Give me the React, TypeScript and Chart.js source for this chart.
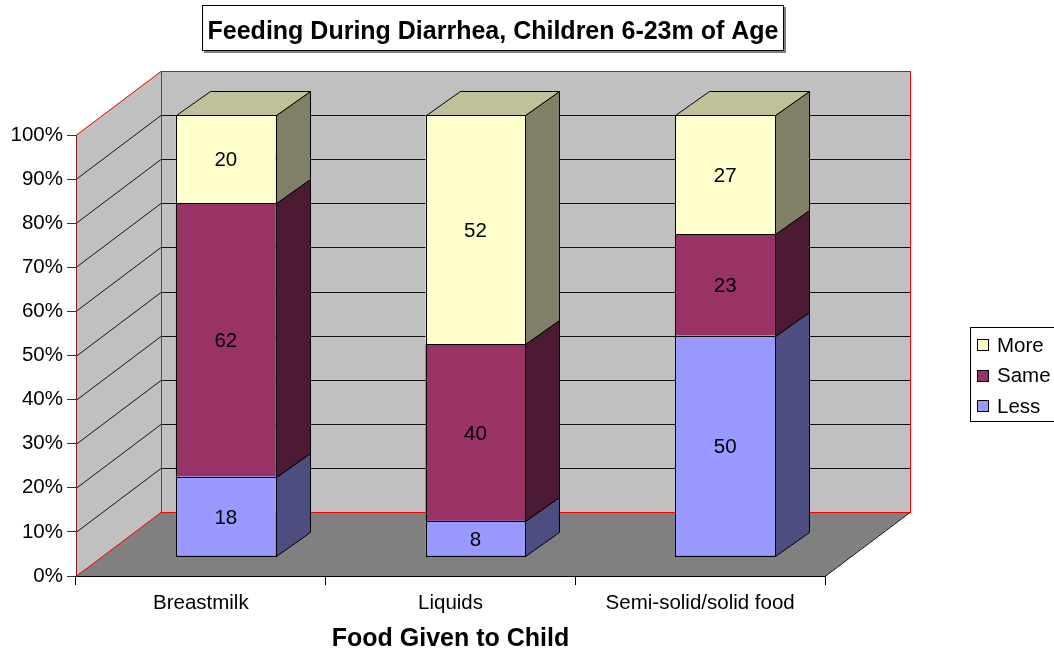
import React, { useEffect, useRef } from 'react';
import { Chart, registerables } from 'chart.js';

Chart.register(...registerables);

const TITLE = 'Feeding During Diarrhea, Children 6-23m of Age';
const X_TITLE = 'Food Given to Child';
const CATEGORIES = ['Breastmilk', 'Liquids', 'Semi-solid/solid food'];
const SERIES_NAMES = ['Less', 'Same', 'More'];
const LESS = [18, 8, 50];
const SAME = [62, 40, 23];
const MORE = [20, 52, 27];
const Y_MIN = 0;
const Y_MAX = 100;
const Y_STEP = 10;

const FONT = '"Liberation Sans", Arial, Helvetica, sans-serif';
const FRONT_COLORS = ['#9999FF', '#993366', '#FFFFCC'];
const SIDE_COLORS = ['#4D4D80', '#4D1A33', '#808066'];
const TOP_COLORS = ['#7373BF', '#732640', '#C0C099'];

// 3D geometry (pixel offsets of the depth axis)
const WALL = { dx: 85, dy: -64 };
const BAR_OFF = { dx: 25, dy: -20 };
const BAR_DEPTH = { dx: 34, dy: -24 };

function poly(ctx: CanvasRenderingContext2D, pts: number[][]) {
  ctx.beginPath();
  ctx.moveTo(pts[0][0], pts[0][1]);
  for (let i = 1; i < pts.length; i++) ctx.lineTo(pts[i][0], pts[i][1]);
  ctx.closePath();
}

function seg(ctx: CanvasRenderingContext2D, x1: number, y1: number, x2: number, y2: number) {
  ctx.beginPath();
  ctx.moveTo(x1, y1);
  ctx.lineTo(x2, y2);
  ctx.stroke();
}

const crisp = (v: number) => Math.round(v) + 0.5;

const scenePlugin = {
  id: 'scene3d',
  beforeDraw(chart: any) {
    const { ctx, chartArea: a, scales } = chart;
    const ys = scales.y;
    const L = a.left, R = a.right, T = a.top, B = a.bottom;
    const dx = WALL.dx, dy = WALL.dy;
    ctx.save();
    ctx.fillStyle = '#C0C0C0';
    poly(ctx, [[L, B], [L + dx, B + dy], [L + dx, T + dy], [L, T]]);
    ctx.fill();
    ctx.fillRect(L + dx, T + dy, R - L, B - T);
    ctx.fillStyle = '#808080';
    poly(ctx, [[L, B], [R, B], [R + dx, B + dy], [L + dx, B + dy]]);
    ctx.fill();
    ctx.strokeStyle = '#111';
    ctx.lineWidth = 1;
    for (let v = Y_MIN + Y_STEP; v < Y_MAX; v += Y_STEP) {
      const py = crisp(ys.getPixelForValue(v));
      seg(ctx, L, py, L + dx, py + dy);
      seg(ctx, L + dx, py + dy, R + dx, py + dy);
    }
    ctx.strokeStyle = '#FF0000';
    const t = crisp(T), b = crisp(B);
    seg(ctx, L, t, L + dx, t + dy);
    seg(ctx, L, b, L + dx, b + dy);
    ctx.strokeRect(L + dx + 0.5, t + dy, R - L, B - T);
    ctx.strokeStyle = '#000';
    seg(ctx, R, b, R + dx, b + dy);
    ctx.restore();
  },
  beforeDatasetsDraw(chart: any) {
    chart.ctx.save();
    chart.ctx.translate(BAR_OFF.dx, BAR_OFF.dy);
  },
  afterDatasetsDraw(chart: any) {
    const ctx: CanvasRenderingContext2D = chart.ctx;
    const metas = chart.getSortedVisibleDatasetMetas();
    const nCat = chart.data.labels.length;
    const bdx = BAR_DEPTH.dx, bdy = BAR_DEPTH.dy;
    ctx.lineWidth = 1;
    ctx.strokeStyle = '#000';
    for (let j = 0; j < nCat; j++) {
      let topIdx = -1;
      metas.forEach((m: any, k: number) => {
        const v = chart.data.datasets[m.index].data[j];
        if (v > 0) topIdx = k;
      });
      metas.forEach((m: any, k: number) => {
        const el = m.data[j];
        const val = chart.data.datasets[m.index].data[j];
        if (!el || !(val > 0)) return;
        const { x, y, base, width } = el.getProps(['x', 'y', 'base', 'width'], true);
        const left = crisp(x - width / 2), right = crisp(x + width / 2);
        const top = crisp(Math.min(y, base)), bottom = crisp(Math.max(y, base));
        // front outline (crisp)
        ctx.strokeStyle = '#000';
        ctx.strokeRect(left, top, right - left, bottom - top);
        // side face
        ctx.fillStyle = SIDE_COLORS[m.index];
        poly(ctx, [[right, top], [right + bdx, top + bdy], [right + bdx, bottom + bdy], [right, bottom]]);
        ctx.fill();
        ctx.stroke();
        if (k === topIdx) {
          ctx.fillStyle = TOP_COLORS[m.index];
          poly(ctx, [[left, top], [left + bdx, top + bdy], [right + bdx, top + bdy], [right, top]]);
          ctx.fill();
          ctx.stroke();
        }
        ctx.fillStyle = '#000';
        ctx.font = `20.5px ${FONT}`;
        ctx.textAlign = 'center';
        ctx.textBaseline = 'middle';
        ctx.fillText(String(val), x, (top + bottom) / 2 + 1);
      });
    }
    ctx.restore();
  },
  afterDraw(chart: any) {
    const ctx: CanvasRenderingContext2D = chart.ctx;
    ctx.save();
    const bx = 202, by = 5, bw = 582, bh = 46;
    ctx.fillStyle = '#808080';
    ctx.fillRect(bx + 2, by + 2, bw, bh);
    ctx.fillStyle = '#FFFFFF';
    ctx.fillRect(bx, by, bw, bh);
    ctx.strokeStyle = '#000';
    ctx.lineWidth = 1;
    ctx.strokeRect(bx + 0.5, by + 0.5, bw - 1, bh - 1);
    ctx.fillStyle = '#000';
    ctx.font = `bold 25px ${FONT}`;
    ctx.textAlign = 'center';
    ctx.textBaseline = 'alphabetic';
    ctx.fillText(TITLE, bx + bw / 2, 39);

    const lx = 970, ly = 327, lw = 100, lh = 94;
    ctx.fillStyle = '#FFFFFF';
    ctx.fillRect(lx, ly, lw, lh);
    ctx.strokeStyle = '#000';
    ctx.strokeRect(lx + 0.5, ly + 0.5, lw, lh);
    ctx.font = `20.5px ${FONT}`;
    ctx.textAlign = 'left';
    ctx.textBaseline = 'middle';
    const ds = chart.data.datasets;
    const order = ds.map((_: any, i: number) => i).reverse();
    order.forEach((di: number, k: number) => {
      const cy = 345 + k * 30.5;
      ctx.fillStyle = FRONT_COLORS[di];
      ctx.fillRect(977, Math.round(cy - 6), 12, 12);
      ctx.strokeStyle = '#000';
      ctx.strokeRect(977.5, Math.round(cy - 6) + 0.5, 11, 11);
      ctx.fillStyle = '#000';
      ctx.fillText(ds[di].label, 997, cy + 1);
    });
    ctx.restore();
  },
};

export default function App() {
  const ref = useRef<HTMLCanvasElement | null>(null);
  useEffect(() => {
    if (!ref.current) return;
    const series = [LESS, SAME, MORE];
    const chart = new Chart(ref.current, {
      type: 'bar',
      data: {
        labels: CATEGORIES,
        datasets: series.map((d, i) => ({
          label: SERIES_NAMES[i],
          data: d,
          backgroundColor: FRONT_COLORS[i],
          borderColor: '#000',
          borderWidth: 0,
          categoryPercentage: 1,
          barPercentage: 0.4,
          clip: false as any,
        })),
      },
      options: {
        responsive: false,
        animation: false,
        layout: { padding: { top: 135, right: 229, left: 0, bottom: 0 } },
        plugins: {
          legend: { display: false },
          title: { display: false },
          tooltip: { enabled: false },
        },
        scales: {
          x: {
            stacked: true,
            offset: true,
            afterFit: (s: any) => { s.height = 78; },
            grid: { offset: true, drawOnChartArea: false, drawTicks: true, tickLength: 9, color: '#000' },
            border: { display: true, color: '#000' },
            ticks: { color: '#000', padding: 6, font: { family: FONT, size: 20.5 }, maxRotation: 0, autoSkip: false },
            title: {
              display: true,
              text: X_TITLE,
              color: '#000',
              padding: 0,
              font: { family: FONT, size: 25, weight: 'bold', lineHeight: 1.16 },
            },
          },
          y: {
            stacked: true,
            min: Y_MIN,
            max: Y_MAX,
            afterFit: (s: any) => { s.width = 76; },
            grid: { drawOnChartArea: false, drawTicks: true, tickLength: 9, color: '#333' },
            border: { display: true, color: '#7f1f1f' },
            ticks: {
              stepSize: Y_STEP,
              color: '#000',
              padding: 4,
              font: { family: FONT, size: 20.5 },
              callback: (v: any) => `${v}%`,
            },
          },
        },
      },
      plugins: [scenePlugin],
    });
    return () => chart.destroy();
  }, []);
  return (
    <div style={{ position: 'fixed', left: 0, top: 0, width: 1054, height: 654, background: '#fff' }}>
      <canvas ref={ref} width={1054} height={654} style={{ display: 'block' }} />
    </div>
  );
}
